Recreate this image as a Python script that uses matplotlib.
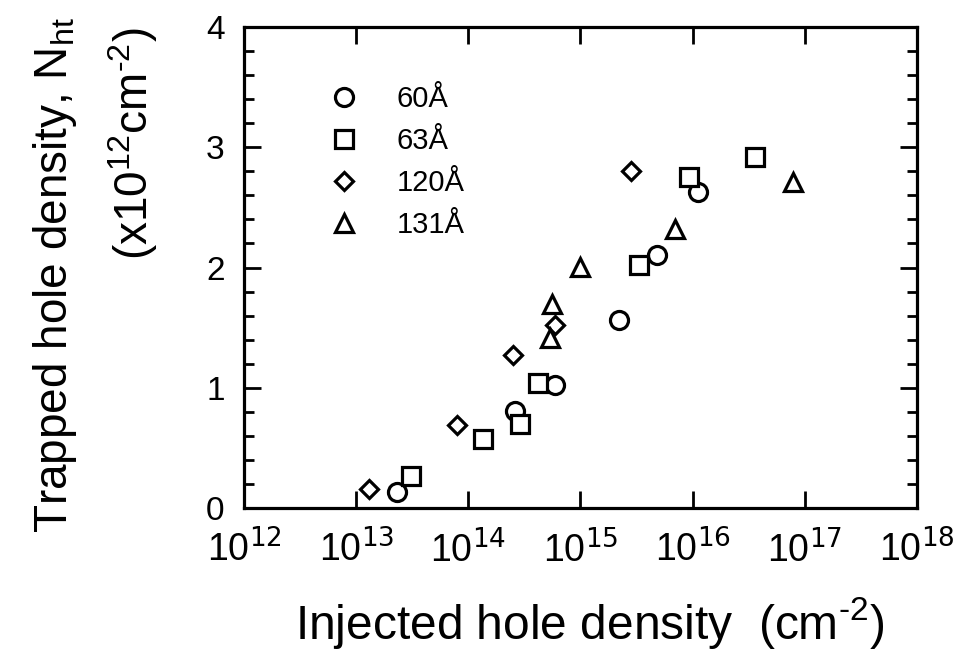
import matplotlib
matplotlib.use("Agg")
import matplotlib.pyplot as plt
from matplotlib.ticker import FixedLocator, MultipleLocator, NullLocator
import numpy as np

plt.rcParams['font.family'] = ['Liberation Sans', 'DejaVu Sans']
plt.rcParams['mathtext.fontset'] = 'custom'
plt.rcParams['mathtext.rm'] = 'Liberation Sans'
plt.rcParams['mathtext.it'] = 'Liberation Sans'
plt.rcParams['mathtext.default'] = 'regular'

# Data
x60 = [2.3e13, 2.6e14, 5.9e14, 2.2e15, 4.8e15, 1.12e16]
y60 = [0.13, 0.81, 1.02, 1.56, 2.10, 2.63]

x63 = [3.1e13, 1.35e14, 2.9e14, 4.2e14, 3.3e15, 9.3e15, 3.6e16]
y63 = [0.27, 0.57, 0.70, 1.04, 2.02, 2.75, 2.92]

x120 = [1.3e13, 8.0e13, 2.5e14, 5.9e14, 2.8e15]
y120 = [0.155, 0.69, 1.27, 1.52, 2.80]

x131 = [5.4e14, 5.6e14, 9.8e14, 6.9e15, 7.9e16]
y131 = [1.41, 1.70, 2.005, 2.32, 2.71]

series_labels = ['60Å', '63Å', '120Å', '131Å']
x_tick_exps = [12, 13, 14, 15, 16, 17, 18]
y_ticks = [0, 1, 2, 3, 4]

fig = plt.figure(figsize=(9.57, 6.54), dpi=100)
ax = fig.add_axes([244/957, 1 - 508/654, (917-244)/957, (508-27)/654])

common = dict(linestyle='none', markerfacecolor='white', markeredgecolor='black',
              markeredgewidth=2.3, clip_on=False)
ax.plot(x60, y60, marker='o', markersize=13, label=series_labels[0], **common)
ax.plot(x63, y63, marker='s', markersize=12.5, label=series_labels[1], **common)
ax.plot(x120, y120, marker='D', markersize=9.5, label=series_labels[2], **common)
ax.plot(x131, y131, marker='^', markersize=13.5, label=series_labels[3], **common)

ax.set_xscale('log')
ax.set_xlim(1e12, 1e18)
ax.set_ylim(0, 4)
ax.xaxis.set_major_locator(FixedLocator([10.0**e for e in x_tick_exps]))
ax.xaxis.set_minor_locator(NullLocator())
ax.set_xticklabels([r'$10^{\mathsf{%d}}$' % e for e in x_tick_exps])
ax.yaxis.set_major_locator(FixedLocator(y_ticks))
ax.yaxis.set_minor_locator(MultipleLocator(0.2))
ax.set_yticklabels([str(v) for v in y_ticks])

for s in ax.spines.values():
    s.set_linewidth(2.3)
ax.tick_params(which='both', direction='in', top=True, right=True, width=2.0)
ax.tick_params(which='major', length=12)
ax.tick_params(which='minor', length=7)
ax.tick_params(axis='y', labelsize=24, pad=14)
ax.tick_params(axis='x', labelsize=27, pad=16)

leg = ax.legend(loc='upper left', bbox_to_anchor=(0.127, 0.88), frameon=False,
                fontsize=21, handletextpad=1.3, labelspacing=0.48, handlelength=1.0,
                borderaxespad=0, borderpad=0)

fig.text(590/957, 1 - 623/654, r'Injected hole density  (cm$^{\text{-}2}$)', ha='center', va='center', fontsize=34.5)
fig.text(55/957, 1 - 275/654, r'Trapped hole density, N$_{ht}$', ha='center', va='center',
         rotation=90, fontsize=33)
fig.text(133/957, 1 - 28/654, r'(x10$^{12}$cm$^{\text{-}2}$)', ha='center', va='top',
         rotation=90, fontsize=33)

fig.savefig('out.png', dpi=100)
